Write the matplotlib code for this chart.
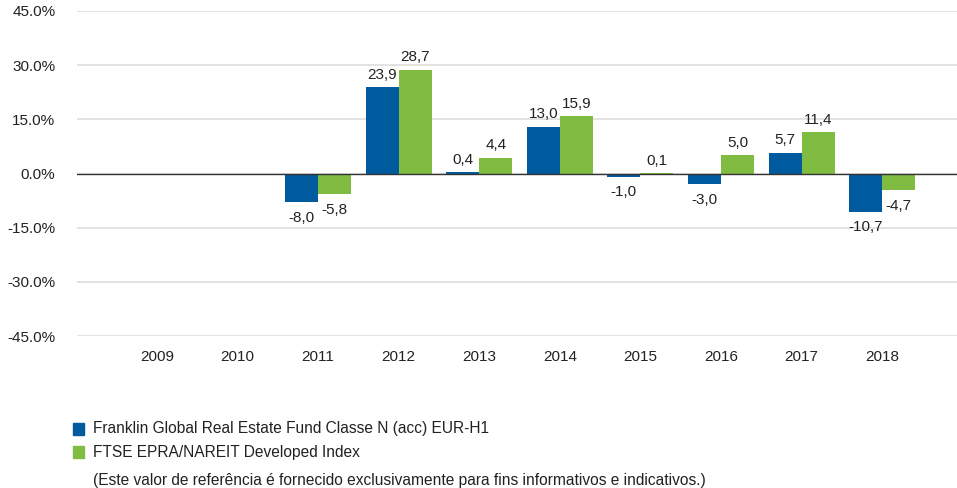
import matplotlib
matplotlib.use("Agg")
import matplotlib.pyplot as plt
from matplotlib.patches import Rectangle
import numpy as np

years = ["2009", "2010", "2011", "2012", "2013", "2014", "2015", "2016", "2017", "2018"]
fund = [np.nan, np.nan, -8.0, 23.9, 0.4, 13.0, -1.0, -3.0, 5.7, -10.7]
index = [np.nan, np.nan, -5.8, 28.7, 4.4, 15.9, 0.1, 5.0, 11.4, -4.7]
yticks = [-45, -30, -15, 0, 15, 30, 45]
fund_name = "Franklin Global Real Estate Fund Classe N (acc) EUR-H1"
index_name = "FTSE EPRA/NAREIT Developed Index"
note = "(Este valor de referência é fornecido exclusivamente para fins informativos e indicativos.)"

plt.rcParams["font.family"] = ["Liberation Sans", "DejaVu Sans"]

BLUE = "#005b9e"
GREEN = "#80bc41"
FS = 11
LFS = 11.2
TC = "#222222"

W, H = 957, 488
fig = plt.figure(figsize=(W / 100, H / 100), dpi=100)
ax = fig.add_axes([77 / W, 1 - 336 / H, 880 / W, 325 / H])

x = np.arange(len(years))
bw = 0.41
ax.bar(x - bw / 2, fund, width=bw, color=BLUE, zorder=3)
ax.bar(x + bw / 2, index, width=bw, color=GREEN, zorder=3)

ax.set_xlim(-0.993, 9.929)
ax.set_ylim(-45, 45)
ax.set_yticks(yticks)
ax.set_yticklabels([f"{v:.1f}%" for v in yticks], fontsize=FS, color=TC)
ax.yaxis.grid(True, color="#dedede", linewidth=1.2, zorder=0)
ax.axhline(0, color="#333333", linewidth=1.0, zorder=4)
ax.set_xticks(x)
ax.set_xticklabels(years, fontsize=FS, color=TC)
ax.tick_params(axis="both", length=0)
ax.tick_params(axis="y", pad=15.5)
ax.tick_params(axis="x", pad=10)
for s in ax.spines.values():
    s.set_visible(False)

def lab(xs, vals):
    for xi, v in zip(xs, vals):
        if np.isnan(v):
            continue
        txt = f"{v:.1f}".replace(".", ",")
        if v >= 0:
            ax.annotate(txt, (xi, v), xytext=(0, 4), textcoords="offset points",
                        ha="center", va="bottom", fontsize=FS, color=TC)
        else:
            ax.annotate(txt, (xi, v), xytext=(0, -6), textcoords="offset points",
                        ha="center", va="top", fontsize=FS, color=TC)

lab(x - bw / 2, fund)
lab(x + bw / 2, index)

# legend
for yc, col, name in [(429, BLUE, fund_name), (452, GREEN, index_name)]:
    fig.patches.append(Rectangle((73 / W, 1 - (yc + 6) / H), 11 / W, 12 / H,
                                 transform=fig.transFigure, color=col, figure=fig))
    fig.text(93 / W, 1 - yc / H, name, fontsize=LFS, va="center", ha="left", color=TC)
fig.text(93 / W, 1 - 480 / H, note, fontsize=LFS, va="center", ha="left", color=TC)

fig.savefig("out.png", dpi=100)
